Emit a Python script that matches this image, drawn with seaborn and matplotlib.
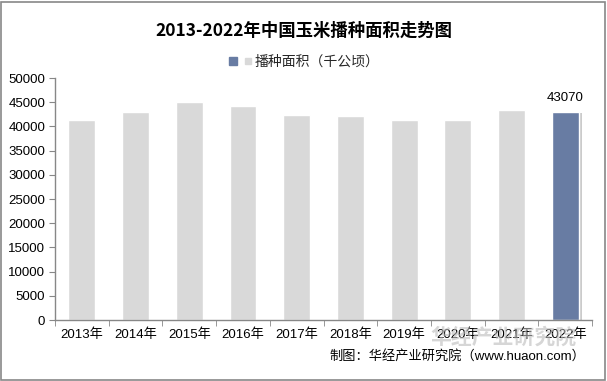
import numpy as np
import pandas as pd
import matplotlib
matplotlib.use('Agg')
import matplotlib.pyplot as plt
import matplotlib.patheffects as pe
from matplotlib.lines import Line2D
from matplotlib.patches import Rectangle
import seaborn as sns

# Datos
anios = ['2013年', '2014年', '2015年', '2016年', '2017年',
         '2018年', '2019年', '2020年', '2021年', '2022年']
area = [41299, 42997, 44968, 44178, 42399, 42130, 41284, 41264, 43324, 43070]
y_ticks = [0, 5000, 10000, 15000, 20000, 25000, 30000, 35000, 40000, 45000, 50000]

gris = '#d9d9d9'
azul = '#687ca3'

sns.set_style('white')
plt.rcParams['font.family'] = ['Liberation Sans', 'Noto Sans CJK SC', 'DejaVu Sans']

df = pd.DataFrame({'anio': anios, 'area': area})
colores = {a: gris for a in anios}
colores[anios[-1]] = azul

fig = plt.figure(figsize=(6.07, 3.81), dpi=100)
ax = fig.add_axes([0.0906, 0.160, 0.885, 0.635])

sns.barplot(data=df, x='anio', y='area', hue='anio', palette=colores,
            legend=False, width=0.5, ax=ax, saturation=1)

# Sombra en la ultima barra
ultima = ax.patches[-1]
ultima.set_path_effects([pe.SimplePatchShadow(offset=(2, -1), shadow_rgbFace='#999999', alpha=0.5),
                         pe.Normal()])

ax.set_ylim(0, 50000)
ax.set_xlim(-0.5, len(anios) - 0.5)
ax.set_yticks(y_ticks)
ax.set_yticklabels([str(v) for v in y_ticks])
ax.set_xlabel('')
ax.set_ylabel('')

# Ejes
for s in ['top', 'right']:
    ax.spines[s].set_visible(False)
for s in ['left', 'bottom']:
    ax.spines[s].set_color('#878787')
    ax.spines[s].set_linewidth(1)
ax.tick_params(axis='y', which='major', length=4, color='#878787', direction='out',
               labelsize=9.5, labelcolor='#000000', left=True, pad=3)
ax.tick_params(axis='x', which='major', length=0, labelsize=9.5, labelcolor='#000000', pad=6)
ax.set_xticks(np.arange(-0.5, len(anios)), minor=True)
ax.tick_params(axis='x', which='minor', length=4, color='#878787', bottom=True)

# Etiqueta de la ultima barra
ax.text(len(anios) - 1, area[-1] + 1500, str(area[-1]), ha='center', va='bottom',
        fontsize=9.5, color='#000000')

# Titulo
fig.text(0.5, 0.92, '2013-2022年中国玉米播种面积走势图', ha='center', va='center',
         fontsize=12.5, fontweight='bold', family=['Noto Sans CJK SC'], color='#000000')

# Leyenda
handles = [Line2D([], [], marker='s', color=azul, linestyle='', markersize=6),
           Line2D([], [], marker='s', color=gris, linestyle='', markersize=5)]
fig.legend(handles, ['', '播种面积（千公顷）'], loc='center', bbox_to_anchor=(0.5, 0.838),
           ncol=2, frameon=False, fontsize=10, handlelength=0.8, handletextpad=0.1,
           columnspacing=0.2, prop={'family': ['Noto Sans CJK SC'], 'size': 10})

# Fuente y marca de agua
fig.text(0.83, 0.115, '华经产业研究院', ha='center', va='center', fontsize=15,
         fontweight='bold', color='#bbbbbb', alpha=0.6, family=['Noto Sans CJK SC'])
fig.text(0.965, 0.065, '制图：华经产业研究院（www.huaon.com）', ha='right', va='center',
         fontsize=9.5, color='#000000')

# Marco
fig.patches.append(Rectangle((0.002, 0.003), 0.995, 0.993, transform=fig.transFigure,
                             fill=False, edgecolor='#888888', linewidth=1.2))

fig.savefig('out.png', dpi=100)
